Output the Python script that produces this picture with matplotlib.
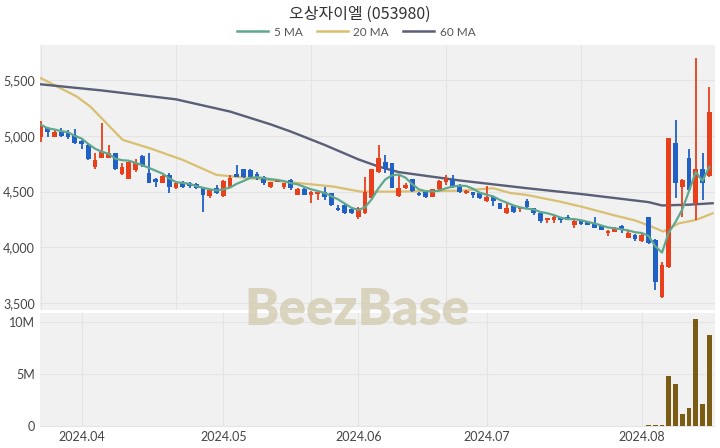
import numpy as np
import pandas as pd
import matplotlib
matplotlib.use('Agg')
import matplotlib.pyplot as plt
from matplotlib.lines import Line2D

plt.rcParams['font.family'] = ['Lato', 'Noto Sans CJK KR', 'DejaVu Sans']

title = '오상자이엘 (053980)'

# daily candles, 2024-03-22 .. 2024-08-16 (trading days)
opens = [4990, 5070, 4995, 5040, 5030, 5010, 4955, 4920, 4720, 4800,
         4800, 4845, 4660, 4615, 4690, 4820, 4665, 4610, 4580, 4645,
         4530, 4585, 4580, 4570, 4540, 4460, 4530, 4460, 4540, 4660,
         4700, 4695, 4655, 4630, 4540, 4590, 4545, 4600, 4470, 4525,
         4470, 4480, 4495, 4485, 4350, 4380, 4345, 4270, 4310, 4440,
         4680, 4765, 4755, 4460, 4530, 4610, 4490, 4500, 4455, 4520,
         4590, 4605, 4560, 4487, 4495, 4485, 4415, 4450, 4395, 4305,
         4370, 4345, 4415, 4350, 4305, 4245, 4245, 4265, 4270, 4200,
         4235, 4225, 4215, 4190, 4130, 4140, 4190, 4085, 4110, 4055,
         4270, 4065, 3550, 3820, 4935, 4540, 4800, 4400, 4700, 4640]
highs = [5135, 5080, 5050, 5075, 5050, 5060, 4965, 4930, 4850, 5115,
         4920, 4850, 4760, 4775, 4795, 4830, 4845, 4620, 4650, 4665,
         4585, 4595, 4590, 4575, 4545, 4520, 4560, 4600, 4650, 4740,
         4705, 4700, 4680, 4640, 4590, 4615, 4580, 4610, 4530, 4530,
         4505, 4500, 4540, 4490, 4380, 4390, 4350, 4360, 4630, 4705,
         4920, 4830, 4760, 4650, 4580, 4615, 4495, 4510, 4525, 4600,
         4650, 4650, 4565, 4510, 4500, 4490, 4550, 4455, 4400, 4395,
         4375, 4365, 4435, 4355, 4310, 4265, 4290, 4275, 4290, 4240,
         4240, 4230, 4270, 4195, 4150, 4180, 4195, 4155, 4115, 4115,
         4275, 4070, 3865, 4985, 5145, 4610, 4885, 5700, 4845, 5440]
lows = [4945, 4990, 4990, 4995, 4970, 4925, 4880, 4780, 4700, 4800,
        4800, 4690, 4650, 4610, 4680, 4720, 4575, 4545, 4575, 4490,
        4525, 4530, 4535, 4525, 4315, 4440, 4480, 4455, 4535, 4630,
        4625, 4625, 4600, 4560, 4535, 4585, 4520, 4515, 4465, 4465,
        4400, 4425, 4425, 4370, 4325, 4300, 4300, 4255, 4300, 4430,
        4670, 4665, 4530, 4450, 4525, 4500, 4460, 4440, 4450, 4515,
        4560, 4535, 4490, 4480, 4440, 4435, 4410, 4370, 4340, 4300,
        4305, 4315, 4345, 4290, 4215, 4215, 4220, 4215, 4240, 4170,
        4200, 4195, 4170, 4150, 4100, 4135, 4130, 4080, 4055, 4050,
        4030, 3610, 3545, 3815, 4440, 4270, 4510, 4245, 4425, 4630]
closes = [5100, 5040, 5035, 5000, 4995, 4935, 4925, 4790, 4785, 4855,
          4850, 4700, 4720, 4765, 4760, 4740, 4580, 4590, 4640, 4540,
          4575, 4545, 4550, 4535, 4465, 4510, 4490, 4595, 4620, 4635,
          4635, 4630, 4625, 4580, 4585, 4605, 4575, 4535, 4525, 4470,
          4500, 4495, 4450, 4375, 4330, 4310, 4305, 4350, 4495, 4700,
          4800, 4700, 4535, 4530, 4560, 4505, 4465, 4455, 4520, 4595,
          4615, 4540, 4495, 4505, 4470, 4440, 4450, 4415, 4345, 4350,
          4315, 4360, 4360, 4310, 4235, 4260, 4275, 4245, 4245, 4235,
          4210, 4200, 4175, 4155, 4145, 4170, 4155, 4125, 4075, 4110,
          4040, 3690, 3840, 4980, 4580, 4605, 4515, 4700, 4580, 5215]
volumes = [20e3, 15e3, 10e3, 10e3, 10e3, 15e3, 10e3, 15e3, 20e3, 40e3,
           20e3, 15e3, 15e3, 15e3, 15e3, 15e3, 20e3, 10e3, 10e3, 15e3,
           10e3, 10e3, 10e3, 10e3, 35e3, 15e3, 10e3, 15e3, 20e3, 25e3,
           15e3, 10e3, 10e3, 10e3, 10e3, 10e3, 10e3, 10e3, 10e3, 10e3,
           10e3, 10e3, 10e3, 15e3, 15e3, 10e3, 10e3, 15e3, 25e3, 35e3,
           40e3, 25e3, 20e3, 15e3, 10e3, 15e3, 10e3, 10e3, 10e3, 15e3,
           15e3, 15e3, 10e3, 10e3, 10e3, 10e3, 15e3, 10e3, 15e3, 10e3,
           10e3, 10e3, 15e3, 10e3, 15e3, 10e3, 10e3, 10e3, 10e3, 10e3,
           10e3, 10e3, 10e3, 10e3, 10e3, 10e3, 10e3, 10e3, 10e3, 10e3,
           50e3, 70e3, 60e3, 4.8e6, 4.0e6, 1.15e6, 1.7e6, 10.3e6, 2.1e6, 8.75e6]

# moving averages (index, value)
ma20_idx = [0, 5.3, 7.3, 12.1, 16.1, 21, 26, 31, 38.4, 43.3, 47.3, 52.1, 62.1,
            67, 69.5, 72, 76.9, 80, 85, 88, 90, 92.2, 94.5, 97, 99.5]
ma20_val = [5520, 5355, 5265, 4965, 4890, 4785, 4650, 4620, 4575, 4545, 4500,
            4499, 4508, 4530, 4487, 4469, 4409, 4365, 4285, 4240, 4195, 4140,
            4214, 4244, 4304]
ma60_idx = [0, 9, 20, 28, 34, 37, 42, 47, 50, 53, 62, 72, 80, 90, 92, 96, 99.5]
ma60_val = [5465, 5410, 5330, 5220, 5105, 5040, 4920, 4790, 4725, 4675, 4600,
            4530, 4478, 4405, 4375, 4382, 4395]

month_idx = [6, 27, 47, 66, 89]
month_lbl = ['2024.04', '2024.05', '2024.06', '2024.07', '2024.08']

up_clr = '#e8401c'
dn_clr = '#2160c4'
c5 = '#5fa88e'
c20 = '#d8c070'
c60 = '#5a5e76'
bg = '#f1f1f1'
grid_clr = '#e4e4e4'
tick_clr = '#444444'

x = np.arange(len(closes))
ma5 = pd.Series(closes).rolling(5, min_periods=1).mean()

fig = plt.figure(figsize=(7.2, 4.48), dpi=100)
ax = fig.add_axes([40/720, 1-310/448, 675/720, 265/448])
axv = fig.add_axes([40/720, 1-427/448, 675/720, 114/448])

for a in (ax, axv):
    a.set_facecolor(bg)
    for s in a.spines.values():
        s.set_visible(False)
    a.tick_params(length=0, colors=tick_clr, labelsize=9)

# candles
for i in range(len(closes)):
    o, h, l, c = opens[i], highs[i], lows[i], closes[i]
    clr = up_clr if c >= o else dn_clr
    ax.vlines(i, l, h, color=clr, linewidth=1.3, zorder=3)
    ax.bar(i, max(abs(c - o), 8), bottom=min(o, c), width=0.68, color=clr,
           linewidth=0, zorder=3)

ax.plot(x, ma5, color=c5, linewidth=1.6, zorder=4)
ax.plot(ma20_idx, ma20_val, color=c20, linewidth=1.6, zorder=2)
ax.plot(ma60_idx, ma60_val, color=c60, linewidth=1.7, zorder=2)

ax.set_xlim(-0.15, 99.85)
ax.set_ylim(3434, 5819)
ax.set_yticks([3500, 4000, 4500, 5000, 5500])
ax.set_yticklabels(['3,500', '4,000', '4,500', '5,000', '5,500'])
ax.set_xticks([0, 20, 40, 60, 80])
ax.set_xticklabels([])
ax.grid(True, color=grid_clr, linewidth=0.8, zorder=0)
ax.set_axisbelow(True)

axv.bar(x, volumes, width=0.7, color='#7a5c14', linewidth=0, zorder=3)
axv.set_xlim(-0.15, 99.85)
axv.set_ylim(-0.1e6, 10.87e6)
axv.set_yticks([0, 5e6, 10e6])
axv.set_yticklabels(['0', '5M', '10M'])
axv.set_xticks(month_idx)
axv.set_xticklabels(month_lbl)
axv.tick_params(axis='x', pad=3)
axv.grid(True, color=grid_clr, linewidth=0.8, zorder=0)
axv.set_axisbelow(True)

fig.text(0.5, 1-14/448, title, ha='center', va='center', fontsize=11.5,
         color='#333333', family=['Noto Sans CJK KR', 'DejaVu Sans'])

handles = [Line2D([], [], color=c5, linewidth=1.8),
           Line2D([], [], color=c20, linewidth=1.8),
           Line2D([], [], color=c60, linewidth=1.8)]
fig.legend(handles, ['5 MA', '20 MA', '60 MA'], loc='center',
           bbox_to_anchor=(0.495, 1-32/448), ncol=3, frameon=False,
           fontsize=8.5, handlelength=2.6, columnspacing=1.2,
           handletextpad=0.5, labelcolor='#555555')

fig.text(0.496, 1-310/448, 'BeezBase', ha='center', va='center',
         fontsize=37, fontweight='heavy', color='#d3ccb0', alpha=0.8,
         family=['Lato', 'DejaVu Sans'], zorder=10)

plt.savefig('out.png', dpi=100)
plt.close()
